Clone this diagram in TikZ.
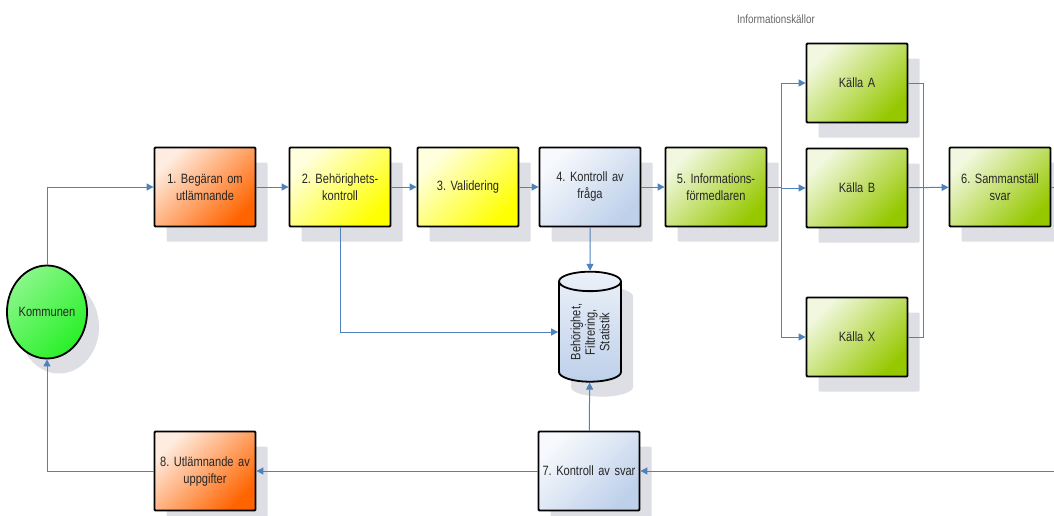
\documentclass[tikz,border=0pt]{standalone}
\usepackage{fontspec}
\setmainfont{Liberation Sans}[FakeStretch=0.82]
\usetikzlibrary{arrows.meta,shapes.geometric,shadows,positioning}

\definecolor{orng}{RGB}{255,100,0}
\definecolor{yell}{RGB}{255,255,0}
\definecolor{lblu}{RGB}{190,208,234}
\definecolor{lgrn}{RGB}{150,200,0}
\definecolor{kgrn}{RGB}{40,240,40}
\definecolor{lineblue}{RGB}{79,129,189}
\definecolor{shadowgray}{RGB}{222,223,228}
\frenchspacing

\begin{document}
\begin{tikzpicture}[x=1pt,y=-1pt,
  >={Triangle[length=7pt,width=7pt]},
  flow/.style={draw=lineblue,line width=1pt},
  shdw/.style={general shadow={fill=shadowgray,shadow xshift=12pt,shadow yshift=-15pt}},
  box/.style={shdw,draw=black,line width=1.8pt,rounded corners=1pt,
    minimum width=101pt,minimum height=79pt,inner sep=0pt,
    text width=99pt,align=center,text=black!85,
    font=\fontsize{13.5}{17}\selectfont,
    top color=#1!12!white,middle color=#1!95!white,bottom color=#1,shading angle=45}]
  \clip (0,0) rectangle (1054,515);

  % nodes
  \node[ellipse,shdw,draw=black,line width=1.8pt,minimum width=71pt,minimum height=93pt,
    inner sep=0pt,top color=kgrn!55!white,middle color=kgrn,bottom color=kgrn,shading angle=45,
    text=black!85,font=\fontsize{13.5}{17}\selectfont] (K) at (47,312) {Kommunen};
  \node[box=orng] (B1) at (205,187) {1. Begäran om\\utlämnande};
  \node[box=yell] (B2) at (340,187) {2. Behörighets-\\kontroll};
  \node[box=yell] (B3) at (468,187) {3. Validering};
  \node[box=lblu] (B4) at (590,187) {4. Kontroll av\\fråga};
  \node[box=lgrn] (B5) at (716,187) {5. Informations-\\förmedlaren};
  \node[box=lgrn] (KA) at (857,83) {Källa A};
  \node[box=lgrn] (KB) at (857,188) {Källa B};
  \node[box=lgrn] (KX) at (857,337) {Källa X};
  \node[box=lgrn] (B6) at (1000,187) {6. Sammanställ\\svar};
  \node[box=lblu] (B7) at (589,471) {7. Kontroll av svar};
  \node[box=orng] (B8) at (205,471) {8. Utlämnande av\\uppgifter};
  \node[cylinder,rotate=90,shdw,draw=black,line width=1.8pt,aspect=0.5,
    minimum width=62pt,minimum height=110pt,inner sep=0pt,
    top color=lblu!30!white,bottom color=lblu,
    align=center,text=black!85,font=\fontsize{13.5}{14.5}\selectfont]
    (DB) at (590,332) {Behörighet,\\Filtrering,\\Statistik};
  \node[text=black!60,font=\fontsize{12}{14}\selectfont] (IK) at (776,19) {Informationskällor};

  % connectors
  \coordinate (S) at (781,187);
  \coordinate (J) at (923,187);
  \coordinate (R) at (1062,187);
  \draw[flow,->] (K) |- (B1);
  \draw[flow,->] (B1) -- (B2);
  \draw[flow,->] (B2) -- (B3);
  \draw[flow,->] (B3) -- (B4);
  \draw[flow,->] (B4) -- (B5);
  \draw[flow] (B5) -- (S);
  \draw[flow] (S |- KA) -- (S |- KX);
  \draw[flow,->] (S |- KA) -- (KA);
  \draw[flow,->] (S |- KB) -- (KB);
  \draw[flow,->] (S |- KX) -- (KX);
  \draw[flow] (KA.east) -| (J |- KX) -- (KX.east);
  \draw[flow,->] (KB) -- (B6);
  \draw[flow,->] (B6.east) -- (R) |- (B7);
  \draw[flow,->] (B4) -- (DB);
  \draw[flow,->] (B7) -- (DB);
  \draw[flow,->] (B2) |- (DB);
  \draw[flow,->] (B7) -- (B8);
  \draw[flow,->] (B8) -| (K);
\end{tikzpicture}
\end{document}
